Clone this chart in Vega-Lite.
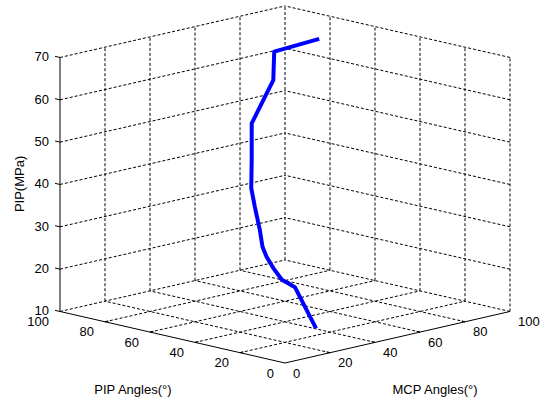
{
  "$schema": "https://vega.github.io/schema/vega-lite/v6.json",
  "width": 548,
  "height": 402,
  "autosize": "none",
  "padding": 0,
  "config": {"view": {"stroke": null}, "text": {"font": "Liberation Sans", "fontSize": 13, "color": "#000000"}},
  "datasets": {
    "grid": [
      {"p1": 20, "m1": 0, "z1": 10, "p2": 20, "m2": 100, "z2": 10},
      {"p1": 40, "m1": 0, "z1": 10, "p2": 40, "m2": 100, "z2": 10},
      {"p1": 60, "m1": 0, "z1": 10, "p2": 60, "m2": 100, "z2": 10},
      {"p1": 80, "m1": 0, "z1": 10, "p2": 80, "m2": 100, "z2": 10},
      {"p1": 100, "m1": 0, "z1": 10, "p2": 100, "m2": 100, "z2": 10},
      {"p1": 0, "m1": 20, "z1": 10, "p2": 100, "m2": 20, "z2": 10},
      {"p1": 0, "m1": 40, "z1": 10, "p2": 100, "m2": 40, "z2": 10},
      {"p1": 0, "m1": 60, "z1": 10, "p2": 100, "m2": 60, "z2": 10},
      {"p1": 0, "m1": 80, "z1": 10, "p2": 100, "m2": 80, "z2": 10},
      {"p1": 0, "m1": 100, "z1": 10, "p2": 100, "m2": 100, "z2": 10},
      {"p1": 100, "m1": 20, "z1": 10, "p2": 100, "m2": 20, "z2": 70},
      {"p1": 100, "m1": 40, "z1": 10, "p2": 100, "m2": 40, "z2": 70},
      {"p1": 100, "m1": 60, "z1": 10, "p2": 100, "m2": 60, "z2": 70},
      {"p1": 100, "m1": 80, "z1": 10, "p2": 100, "m2": 80, "z2": 70},
      {"p1": 100, "m1": 100, "z1": 10, "p2": 100, "m2": 100, "z2": 70},
      {"p1": 100, "m1": 0, "z1": 20, "p2": 100, "m2": 100, "z2": 20},
      {"p1": 100, "m1": 0, "z1": 30, "p2": 100, "m2": 100, "z2": 30},
      {"p1": 100, "m1": 0, "z1": 40, "p2": 100, "m2": 100, "z2": 40},
      {"p1": 100, "m1": 0, "z1": 50, "p2": 100, "m2": 100, "z2": 50},
      {"p1": 100, "m1": 0, "z1": 60, "p2": 100, "m2": 100, "z2": 60},
      {"p1": 100, "m1": 0, "z1": 70, "p2": 100, "m2": 100, "z2": 70},
      {"p1": 0, "m1": 100, "z1": 10, "p2": 0, "m2": 100, "z2": 70},
      {"p1": 20, "m1": 100, "z1": 10, "p2": 20, "m2": 100, "z2": 70},
      {"p1": 40, "m1": 100, "z1": 10, "p2": 40, "m2": 100, "z2": 70},
      {"p1": 60, "m1": 100, "z1": 10, "p2": 60, "m2": 100, "z2": 70},
      {"p1": 80, "m1": 100, "z1": 10, "p2": 80, "m2": 100, "z2": 70},
      {"p1": 0, "m1": 100, "z1": 20, "p2": 100, "m2": 100, "z2": 20},
      {"p1": 0, "m1": 100, "z1": 30, "p2": 100, "m2": 100, "z2": 30},
      {"p1": 0, "m1": 100, "z1": 40, "p2": 100, "m2": 100, "z2": 40},
      {"p1": 0, "m1": 100, "z1": 50, "p2": 100, "m2": 100, "z2": 50},
      {"p1": 0, "m1": 100, "z1": 60, "p2": 100, "m2": 100, "z2": 60},
      {"p1": 0, "m1": 100, "z1": 70, "p2": 100, "m2": 100, "z2": 70}
    ],
    "axes": [
      {"p1": 100, "m1": 0, "z1": 10, "p2": 100, "m2": 0, "z2": 70},
      {"p1": 0, "m1": 0, "z1": 10, "p2": 100, "m2": 0, "z2": 10},
      {"p1": 0, "m1": 0, "z1": 10, "p2": 0, "m2": 100, "z2": 10},
      {"p1": 100, "m1": 0, "z1": 10, "p2": 102.2, "m2": 0, "z2": 10},
      {"p1": 100, "m1": 0, "z1": 20, "p2": 102.2, "m2": 0, "z2": 20},
      {"p1": 100, "m1": 0, "z1": 30, "p2": 102.2, "m2": 0, "z2": 30},
      {"p1": 100, "m1": 0, "z1": 40, "p2": 102.2, "m2": 0, "z2": 40},
      {"p1": 100, "m1": 0, "z1": 50, "p2": 102.2, "m2": 0, "z2": 50},
      {"p1": 100, "m1": 0, "z1": 60, "p2": 102.2, "m2": 0, "z2": 60},
      {"p1": 100, "m1": 0, "z1": 70, "p2": 102.2, "m2": 0, "z2": 70},
      {"p1": 20, "m1": 0, "z1": 10, "p2": 20, "m2": 1.5, "z2": 10},
      {"p1": 40, "m1": 0, "z1": 10, "p2": 40, "m2": 1.5, "z2": 10},
      {"p1": 60, "m1": 0, "z1": 10, "p2": 60, "m2": 1.5, "z2": 10},
      {"p1": 80, "m1": 0, "z1": 10, "p2": 80, "m2": 1.5, "z2": 10},
      {"p1": 0, "m1": 20, "z1": 10, "p2": 1.5, "m2": 20, "z2": 10},
      {"p1": 0, "m1": 40, "z1": 10, "p2": 1.5, "m2": 40, "z2": 10},
      {"p1": 0, "m1": 60, "z1": 10, "p2": 1.5, "m2": 60, "z2": 10},
      {"p1": 0, "m1": 80, "z1": 10, "p2": 1.5, "m2": 80, "z2": 10}
    ],
    "labels": [
      {"t": "10", "p": 100, "m": 0, "z": 10, "ax": "z"},
      {"t": "20", "p": 100, "m": 0, "z": 20, "ax": "z"},
      {"t": "30", "p": 100, "m": 0, "z": 30, "ax": "z"},
      {"t": "40", "p": 100, "m": 0, "z": 40, "ax": "z"},
      {"t": "50", "p": 100, "m": 0, "z": 50, "ax": "z"},
      {"t": "60", "p": 100, "m": 0, "z": 60, "ax": "z"},
      {"t": "70", "p": 100, "m": 0, "z": 70, "ax": "z"},
      {"t": "0", "p": 0, "m": 0, "z": 10, "ax": "pip"},
      {"t": "20", "p": 20, "m": 0, "z": 10, "ax": "pip"},
      {"t": "40", "p": 40, "m": 0, "z": 10, "ax": "pip"},
      {"t": "60", "p": 60, "m": 0, "z": 10, "ax": "pip"},
      {"t": "80", "p": 80, "m": 0, "z": 10, "ax": "pip"},
      {"t": "100", "p": 100, "m": 0, "z": 10, "ax": "pip"},
      {"t": "0", "p": 0, "m": 0, "z": 10, "ax": "mcp"},
      {"t": "20", "p": 0, "m": 20, "z": 10, "ax": "mcp"},
      {"t": "40", "p": 0, "m": 40, "z": 10, "ax": "mcp"},
      {"t": "60", "p": 0, "m": 60, "z": 10, "ax": "mcp"},
      {"t": "80", "p": 0, "m": 80, "z": 10, "ax": "mcp"},
      {"t": "100", "p": 0, "m": 100, "z": 10, "ax": "mcp"}
    ],
    "curve": [
      {"i": 1, "pip": 18.1, "mcp": 31.9, "pressure": 12.1},
      {"i": 2, "pip": 25.8, "mcp": 30.2, "pressure": 21.1},
      {"i": 3, "pip": 27.8, "mcp": 29.2, "pressure": 21.9},
      {"i": 4, "pip": 29.7, "mcp": 28.3, "pressure": 22.6},
      {"i": 5, "pip": 33.1, "mcp": 27.9, "pressure": 25.0},
      {"i": 6, "pip": 36.1, "mcp": 27.9, "pressure": 27.3},
      {"i": 7, "pip": 38.5, "mcp": 28.5, "pressure": 29.3},
      {"i": 8, "pip": 41.6, "mcp": 30.4, "pressure": 32.7},
      {"i": 9, "pip": 45.7, "mcp": 32.3, "pressure": 37.4},
      {"i": 10, "pip": 49.5, "mcp": 34.5, "pressure": 41.1},
      {"i": 11, "pip": 53.4, "mcp": 38.6, "pressure": 46.8},
      {"i": 12, "pip": 58.4, "mcp": 43.6, "pressure": 54.2},
      {"i": 13, "pip": 58.6, "mcp": 53.4, "pressure": 63.2},
      {"i": 14, "pip": 61.4, "mcp": 56.6, "pressure": 69.2},
      {"i": 15, "pip": 60.4, "mcp": 75.6, "pressure": 70.0}
    ]
  },
  "layer": [
    {
      "data": {"name": "grid"},
      "transform": [
        {"calculate": "datum.m1 - datum.p1", "as": "sx1"},
        {"calculate": "datum.z1 - 10 + 0.1217 * (datum.m1 + datum.p1)", "as": "sy1"},
        {"calculate": "datum.m2 - datum.p2", "as": "sx2"},
        {"calculate": "datum.z2 - 10 + 0.1217 * (datum.m2 + datum.p2)", "as": "sy2"}
      ],
      "mark": {"type": "rule", "color": "#000000", "strokeWidth": 1, "strokeDash": [3, 2]},
      "encoding": {
        "x": {"field": "sx1", "type": "quantitative", "scale": {"domain": [-100, 100], "range": [60, 510], "zero": false, "nice": false}, "axis": null},
        "y": {"field": "sy1", "type": "quantitative", "scale": {"domain": [0, 60], "range": [363, 109], "zero": false, "nice": false}, "axis": null},
        "x2": {"field": "sx2"},
        "y2": {"field": "sy2"}
      }
    },
    {
      "data": {"name": "axes"},
      "transform": [
        {"calculate": "datum.m1 - datum.p1", "as": "sx1"},
        {"calculate": "datum.z1 - 10 + 0.1217 * (datum.m1 + datum.p1)", "as": "sy1"},
        {"calculate": "datum.m2 - datum.p2", "as": "sx2"},
        {"calculate": "datum.z2 - 10 + 0.1217 * (datum.m2 + datum.p2)", "as": "sy2"}
      ],
      "mark": {"type": "rule", "color": "#000000", "strokeWidth": 1},
      "encoding": {
        "x": {"field": "sx1", "type": "quantitative", "scale": {"domain": [-100, 100], "range": [60, 510], "zero": false, "nice": false}, "axis": null},
        "y": {"field": "sy1", "type": "quantitative", "scale": {"domain": [0, 60], "range": [363, 109], "zero": false, "nice": false}, "axis": null},
        "x2": {"field": "sx2"},
        "y2": {"field": "sy2"}
      }
    },
    {
      "data": {"name": "curve"},
      "transform": [
        {"calculate": "datum.mcp - datum.pip", "as": "sx"},
        {"calculate": "datum.pressure - 10 + 0.1217 * (datum.mcp + datum.pip)", "as": "sy"}
      ],
      "mark": {"type": "line", "color": "#0000ff", "strokeWidth": 4, "strokeJoin": "round", "strokeCap": "butt"},
      "encoding": {
        "x": {"field": "sx", "type": "quantitative", "scale": {"domain": [-100, 100], "range": [60, 510], "zero": false, "nice": false}, "axis": null},
        "y": {"field": "sy", "type": "quantitative", "scale": {"domain": [0, 60], "range": [363, 109], "zero": false, "nice": false}, "axis": null},
        "order": {"field": "i", "type": "quantitative"}
      }
    },
    {
      "data": {"name": "labels"},
      "transform": [
        {"filter": "datum.ax === 'z'"},
        {"calculate": "datum.m - datum.p", "as": "sx"},
        {"calculate": "datum.z - 10 + 0.1217 * (datum.m + datum.p)", "as": "sy"}
      ],
      "mark": {"type": "text", "align": "right", "baseline": "middle", "dx": -11, "dy": 0},
      "encoding": {
        "x": {"field": "sx", "type": "quantitative", "scale": {"domain": [-100, 100], "range": [60, 510], "zero": false, "nice": false}, "axis": null},
        "y": {"field": "sy", "type": "quantitative", "scale": {"domain": [0, 60], "range": [363, 109], "zero": false, "nice": false}, "axis": null},
        "text": {"field": "t"}
      }
    },
    {
      "data": {"name": "labels"},
      "transform": [
        {"filter": "datum.ax === 'pip'"},
        {"calculate": "datum.m - datum.p", "as": "sx"},
        {"calculate": "datum.z - 10 + 0.1217 * (datum.m + datum.p)", "as": "sy"}
      ],
      "mark": {"type": "text", "align": "right", "baseline": "middle", "dx": -11, "dy": 10.5},
      "encoding": {
        "x": {"field": "sx", "type": "quantitative", "scale": {"domain": [-100, 100], "range": [60, 510], "zero": false, "nice": false}, "axis": null},
        "y": {"field": "sy", "type": "quantitative", "scale": {"domain": [0, 60], "range": [363, 109], "zero": false, "nice": false}, "axis": null},
        "text": {"field": "t"}
      }
    },
    {
      "data": {"name": "labels"},
      "transform": [
        {"filter": "datum.ax === 'mcp'"},
        {"calculate": "datum.m - datum.p", "as": "sx"},
        {"calculate": "datum.z - 10 + 0.1217 * (datum.m + datum.p)", "as": "sy"}
      ],
      "mark": {"type": "text", "align": "left", "baseline": "middle", "dx": 8, "dy": 10.5},
      "encoding": {
        "x": {"field": "sx", "type": "quantitative", "scale": {"domain": [-100, 100], "range": [60, 510], "zero": false, "nice": false}, "axis": null},
        "y": {"field": "sy", "type": "quantitative", "scale": {"domain": [0, 60], "range": [363, 109], "zero": false, "nice": false}, "axis": null},
        "text": {"field": "t"}
      }
    },
    {
      "data": {"values": [{}]},
      "mark": {"type": "text", "align": "center", "baseline": "middle", "angle": 270},
      "encoding": {
        "x": {"datum": -117.6, "type": "quantitative", "scale": {"domain": [-100, 100], "range": [60, 510], "zero": false, "nice": false}, "axis": null},
        "y": {"datum": 42.3, "type": "quantitative", "scale": {"domain": [0, 60], "range": [363, 109], "zero": false, "nice": false}, "axis": null},
        "text": {"value": "PIP(MPa)"}
      }
    },
    {
      "data": {"values": [{}]},
      "mark": {"type": "text", "align": "center", "baseline": "middle"},
      "encoding": {
        "x": {"datum": -67.6, "type": "quantitative", "scale": {"domain": [-100, 100], "range": [60, 510], "zero": false, "nice": false}, "axis": null},
        "y": {"datum": -6.4, "type": "quantitative", "scale": {"domain": [0, 60], "range": [363, 109], "zero": false, "nice": false}, "axis": null},
        "text": {"value": "PIP Angles(°)"}
      }
    },
    {
      "data": {"values": [{}]},
      "mark": {"type": "text", "align": "center", "baseline": "middle"},
      "encoding": {
        "x": {"datum": 66.7, "type": "quantitative", "scale": {"domain": [-100, 100], "range": [60, 510], "zero": false, "nice": false}, "axis": null},
        "y": {"datum": -6.4, "type": "quantitative", "scale": {"domain": [0, 60], "range": [363, 109], "zero": false, "nice": false}, "axis": null},
        "text": {"value": "MCP Angles(°)"}
      }
    }
  ]
}
